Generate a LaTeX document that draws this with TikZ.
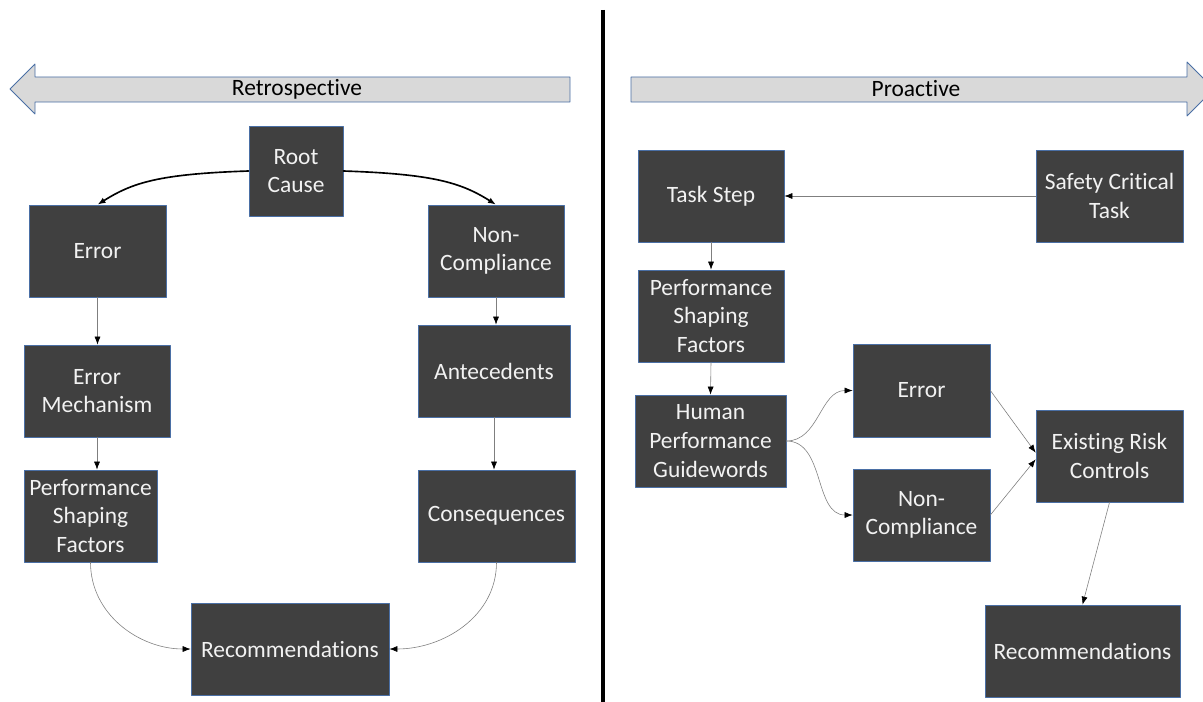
\documentclass[tikz,border=0pt]{standalone}
\usepackage{fontspec}
\setmainfont{Carlito}[Ligatures=NoCommon]
\usetikzlibrary{arrows.meta}

\definecolor{boxfill}{HTML}{404040}
\definecolor{boxline}{HTML}{4A6FA5}
\definecolor{bannerfill}{HTML}{D9D9D9}
\definecolor{linkgray}{HTML}{7F7F7F}

\begin{document}
\begin{tikzpicture}
 [line cap=round,line join=round,x=0.03cm,y=0.03cm,
 box/.style={draw=boxline,fill=boxfill,text=white!95!black,align=center,
   inner sep=0pt,minimum height=2.76cm,line width=0.6pt,
   font=\fontsize{20}{24.5}\selectfont},
 link/.style={draw=linkgray,line width=0.5pt,-{Latex[length=2.4mm,width=1.8mm,color=black]}},
 banner/.style={draw=boxline,fill=bannerfill,line width=0.7pt}]
\useasboundingbox (0,0) rectangle (1203,-702);
\clip (0,0) rectangle (1203,-702);

% banners
\draw[banner] (570,-77) -- (35,-77) -- (35,-64) -- (10,-89) -- (35,-114)
  -- (35,-102) -- (570,-102) -- cycle;
\node[anchor=center] (retro) at (297,-89) {\fontsize{20}{24}\selectfont Retrospective};
\draw[banner] (631,-77) -- (1187,-77) -- (1187,-62) -- (1214,-89) -- (1187,-116)
  -- (1187,-102) -- (631,-102) -- cycle;
\node[anchor=center] (pro) at (916,-89) {\fontsize{20}{24}\selectfont Proactive};

% divider
\draw[line width=4.2pt,line cap=butt] (603,-10) -- (603,-702);

% retrospective side
\node[box,minimum width=2.82cm,minimum height=2.7cm] (root) at (296,-171) {Root\\Cause};
\node[box,minimum width=4.11cm] (errL) at (97.5,-251) {Error};
\node[box,minimum width=4.08cm] (ncL) at (496,-251) {Non-\\Compliance};
\node[box,minimum width=4.38cm] (mech) at (97,-391) {Error\\Mechanism};
\node[box,minimum width=4.56cm] (ante) at (494,-371) {Antecedents};
\node[box,minimum width=3.99cm] (psfL) at (90.5,-516) {Performance\\Shaping\\Factors};
\node[box,minimum width=4.71cm] (cons) at (496.5,-516) {Consequences};
\node[box,minimum width=5.94cm] (recL) at (290,-649) {Recommendations};

\draw[line width=1.4pt,-{Latex[length=2.4mm,width=1.8mm]}] (root.west)
  .. controls +(-90,-3) and +(35,22) .. (errL.north);
\draw[line width=1.4pt,-{Latex[length=2.4mm,width=1.8mm]}] (root.east)
  .. controls +(90,-3) and +(-35,22) .. (ncL.north);
\draw[link] (errL.south) -- (errL.south |- mech.north);
\draw[link] (mech.south) -- (mech.south |- psfL.north);
\draw[link] (ncL.south) -- (ncL.south |- ante.north);
\draw[link] (ante.south) -- (ante.south |- cons.north);
\draw[link] (psfL.south) to[out=-90,in=180] (recL.west);
\draw[link] (cons.south) to[out=-90,in=0] (recL.east);

% proactive side
\node[box,minimum width=4.38cm] (task) at (711,-196) {Task Step};
\node[box,minimum width=4.41cm] (sct) at (1109.5,-196) {Safety Critical\\Task};
\node[box,minimum width=4.38cm] (psfR) at (711,-316) {Performance\\Shaping\\Factors};
\node[box,minimum width=4.53cm] (hpg) at (710.5,-441) {Human\\Performance\\Guidewords};
\node[box,minimum width=4.11cm,minimum height=2.79cm] (errR) at (921.5,-390.5) {Error};
\node[box,minimum width=4.11cm] (ncR) at (921.5,-515) {Non-\\Compliance};
\node[box,minimum width=4.41cm] (erc) at (1109.5,-456) {Existing Risk\\Controls};
\node[box,minimum width=5.85cm] (recR) at (1082.5,-651) {Recommendations};

\draw[link] (sct.west) -- (task.east);
\draw[link] (task.south) -- (psfR.north);
\draw[link] (psfR.south) -- (hpg.north);
\draw[link] (hpg.east) to[out=0,in=180] (errR.west);
\draw[link] (hpg.east) to[out=0,in=180] (ncR.west);
\draw[link] (errR.east) -- ([yshift=0.1cm]erc.west);
\draw[link] (ncR.east) -- ([yshift=-0.1cm]erc.west);
\draw[link] (erc.south) -- (recR.north);
\end{tikzpicture}
\end{document}
